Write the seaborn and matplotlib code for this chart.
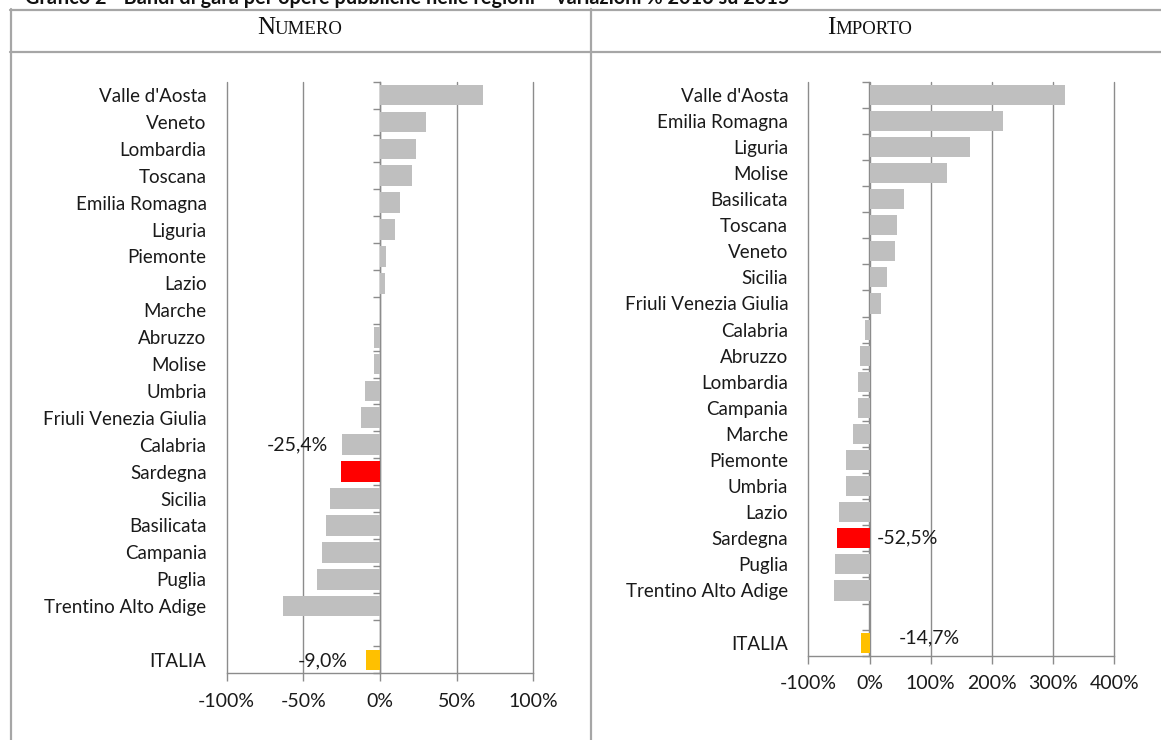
import matplotlib
matplotlib.use("Agg")
import matplotlib.pyplot as plt
import matplotlib.ticker as mticker
from matplotlib.lines import Line2D
import numpy as np
import pandas as pd
import seaborn as sns

# ---------------- data ----------------
title = "Grafico 2 - Bandi di gara per opere pubbliche nelle regioni \u2013 variazioni % 2016 su 2015"

num_regions = ["Valle d'Aosta", "Veneto", "Lombardia", "Toscana", "Emilia Romagna",
               "Liguria", "Piemonte", "Lazio", "Marche", "Abruzzo", "Molise", "Umbria",
               "Friuli Venezia Giulia", "Calabria", "Sardegna", "Sicilia", "Basilicata",
               "Campania", "Puglia", "Trentino Alto Adige"]
num_values = [67.1, 29.7, 23.8, 21.2, 13.0, 9.5, 3.9, 3.0, 0.0, -3.6, -3.6, -9.7,
              -12.1, -24.6, -25.4, -32.9, -35.3, -37.9, -41.1, -63.0]
num_italia = -9.0

imp_regions = ["Valle d'Aosta", "Emilia Romagna", "Liguria", "Molise", "Basilicata",
               "Toscana", "Veneto", "Sicilia", "Friuli Venezia Giulia", "Calabria",
               "Abruzzo", "Lombardia", "Campania", "Marche", "Piemonte", "Umbria",
               "Lazio", "Sardegna", "Puglia", "Trentino Alto Adige"]
imp_values = [320, 218, 164, 126, 57, 45, 41, 28, 18, -7, -15, -19, -19, -27, -38,
              -38, -50, -52.5, -57, -58.5]
imp_italia = -14.7

num_xticks = [-100, -50, 0, 50, 100]
imp_xticks = [-100, 0, 100, 200, 300, 400]

italia_label = "ITALIA"
highlight = "Sardegna"

# ---------------- style ----------------
GREY_BAR = "#bfbfbf"
RED = "#ff0000"
GOLD = "#ffc000"
GRID = "#8c8c8c"
FRAME = "#a6a6a6"
TXT = "#1a1a1a"
FS = 13.5

sns.set_theme(style="white")
plt.rcParams["font.family"] = ["Lato", "DejaVu Sans"]
plt.rcParams["axes.unicode_minus"] = False

W, H = 1161, 740
fig = plt.figure(figsize=(W / 100, H / 100), dpi=100)


def px_axes(l, t, r, b):
    return fig.add_axes([l / W, 1 - b / H, (r - l) / W, (b - t) / H])


def fmt(v):
    return f"{v:.1f}%".replace(".", ",")


def panel(ax, regions, values, italia, xticks):
    order = regions + [" ", italia_label]
    df = pd.DataFrame({"reg": regions + [italia_label], "val": values + [italia]})
    pal = {r: GREY_BAR for r in regions}
    pal[highlight] = RED
    pal[italia_label] = GOLD
    sns.barplot(data=df, x="val", y="reg", order=order, hue="reg", palette=pal,
                legend=False, width=0.77, saturation=1, linewidth=0, ax=ax)
    ax.set_xlim(xticks[0], xticks[-1])
    ax.set_xticks(xticks)
    ax.xaxis.set_major_formatter(mticker.PercentFormatter(decimals=0))
    ax.set_xlabel("")
    ax.set_ylabel("")
    ax.grid(axis="x", color=GRID, lw=1.0, clip_on=False)
    ax.set_axisbelow(True)
    for s in ["top", "right", "left"]:
        ax.spines[s].set_visible(False)
    ax.spines["bottom"].set_color(GRID)
    ax.spines["bottom"].set_linewidth(1.0)
    ax.tick_params(axis="x", bottom=True, length=6, width=1, color=GRID,
                   direction="out", pad=8, labelsize=14, labelcolor=TXT)
    ax.tick_params(axis="y", left=False, length=0, pad=14.5, labelsize=FS,
                   labelcolor=TXT)
    # vertical axis at 0 with category separators
    frac = (0 - xticks[0]) / (xticks[-1] - xticks[0])
    sec = ax.secondary_yaxis(frac)
    sec.set_alignment("left")
    sec.set_yticks(np.arange(-0.5, len(order), 1.0))
    sec.set_yticklabels([])
    sec.tick_params(axis="y", length=5, width=1, color=GRID, direction="out")
    for s in sec.spines.values():
        s.set_color(GRID)
        s.set_linewidth(1.0)
    return order


# Numero panel
axL = px_axes(226.7, 81.7, 533.3, 673.3)
orderL = panel(axL, num_regions, num_values, num_italia, num_xticks)
iS = orderL.index(highlight)
iI = orderL.index(italia_label)
vS = num_values[num_regions.index(highlight)]
axL.annotate(fmt(vS), xy=(vS, iS), xytext=(-44, 27), textcoords="offset pixels",
             ha="center", va="center", fontsize=14, color=TXT)
axL.annotate(fmt(num_italia), xy=(num_italia, iI), xytext=(-43, -1),
             textcoords="offset pixels", ha="center", va="center",
             fontsize=14, color=TXT)

# Importo panel
axR = px_axes(808.3, 81.7, 1114.3, 655.7)
orderR = panel(axR, imp_regions, imp_values, imp_italia, imp_xticks)
iS = orderR.index(highlight)
iI = orderR.index(italia_label)
vS = imp_values[imp_regions.index(highlight)]
axR.annotate(fmt(vS), xy=(0, iS), xytext=(7, 0), textcoords="offset pixels",
             ha="left", va="center", fontsize=14, color=TXT)
axR.annotate(fmt(imp_italia), xy=(0, iI), xytext=(29, 5),
             textcoords="offset pixels", ha="left", va="center",
             fontsize=14, color=TXT)

# ---------------- frame / headers ----------------
def hline(y, x0, x1):
    fig.add_artist(Line2D([x0 / W, x1 / W], [1 - y / H, 1 - y / H], color=FRAME, lw=1.6))


def vline(x, y0, y1):
    fig.add_artist(Line2D([x / W, x / W], [1 - y0 / H, 1 - y1 / H], color=FRAME, lw=1.6))


hline(10, 10, W)
hline(52, 10, W)
vline(11, 9, H)
vline(591, 9, H)

fig.text(25 / W, 1 - 3.5 / H, title, ha="left", va="baseline", fontsize=14.3,
         fontweight="bold", color="#111111")


def smallcaps(xc, yc, word):
    serif = ["Liberation Serif", "DejaVu Serif"]
    big = fig.text(0, 0, word[0], fontsize=18, family=serif, color="#111111",
                   va="baseline")
    small = fig.text(0, 0, word[1:].upper(), fontsize=13.6, family=serif,
                     color="#111111", va="baseline")
    fig.canvas.draw()
    r = fig.canvas.get_renderer()
    w1 = big.get_window_extent(r).width
    w2 = small.get_window_extent(r).width
    x0 = xc - (w1 + w2) / 2
    big.set_position((x0 / W, 1 - yc / H))
    small.set_position(((x0 + w1) / W, 1 - yc / H))


smallcaps(300, 34, "NUMERO")
smallcaps(870, 34, "IMPORTO")

fig.savefig("out.png", dpi=100)
